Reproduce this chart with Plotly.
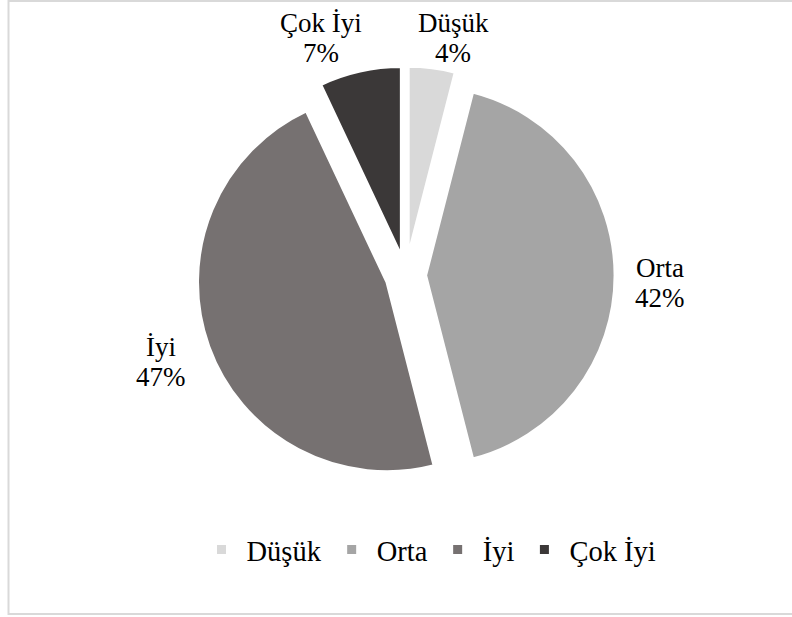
import plotly.graph_objects as go

# Değerlendirme düzeyleri ve yüzdeleri
categories = ["Düşük", "Orta", "İyi", "Çok İyi"]
values = [4, 42, 47, 7]
colors = ["#d9d9d9", "#a5a5a5", "#767171", "#3b3838"]

# Etiketlerin merkez x'i ve ilk satırın taban çizgisi (piksel)
label_pos = {
    "Düşük": (453, 32),
    "Orta": (660, 277),
    "İyi": (161, 356),
    "Çok İyi": (320.5, 32),
}

W, H = 792, 617
FONT = "Liberation Serif"
LABEL_SIZE = 27
LINE_PITCH = 30

pull = 0.105
fig = go.Figure(
    go.Pie(
        labels=categories,
        values=values,
        sort=False,
        direction="clockwise",
        rotation=0,
        pull=[pull] * len(values),
        marker=dict(colors=colors, line=dict(color="white", width=3)),
        textinfo="none",
        hoverinfo="label+percent",
        domain=dict(x=[0.2479, 0.7766], y=[0.2141, 0.8929]),
        automargin=False,
    )
)

# Dilim etiketleri: kategori adı ve yüzde, değerlerden hesaplanır
total = sum(values)
for cat, val in zip(categories, values):
    x, base = label_pos[cat]
    pct = f"{round(100 * val / total)}%"
    for i, line in enumerate([cat, pct]):
        b = base + i * LINE_PITCH
        # kutu merkezi ile taban çizgisi arasındaki fark ~0.34 em
        yc = b - 0.34 * LABEL_SIZE
        fig.add_annotation(
            x=x / W, y=1 - yc / H, xref="paper", yref="paper",
            text=line, showarrow=False, xanchor="center", yanchor="middle",
            font=dict(family=FONT, size=LABEL_SIZE, color="black"),
        )

# Grafik alanının çerçevesi
fig.add_shape(
    type="rect", xref="paper", yref="paper",
    x0=8.5 / W, x1=1.02, y0=1 - 614 / H, y1=1 - 1 / H,
    line=dict(color="#d9d9d9", width=2), fillcolor="rgba(0,0,0,0)",
    layer="below",
)

fig.update_layout(
    width=W, height=H,
    margin=dict(l=0, r=0, t=0, b=0),
    paper_bgcolor="white", plot_bgcolor="white",
    font=dict(family=FONT, color="black"),
    showlegend=True,
    legend=dict(
        orientation="h", x=196.5 / W, xanchor="left",
        y=1 - 550 / H, yanchor="middle",
        itemwidth=40,
        font=dict(family=FONT, size=28.5, color="black"),
        bgcolor="rgba(0,0,0,0)",
    ),
)

fig.write_html("out.html")
